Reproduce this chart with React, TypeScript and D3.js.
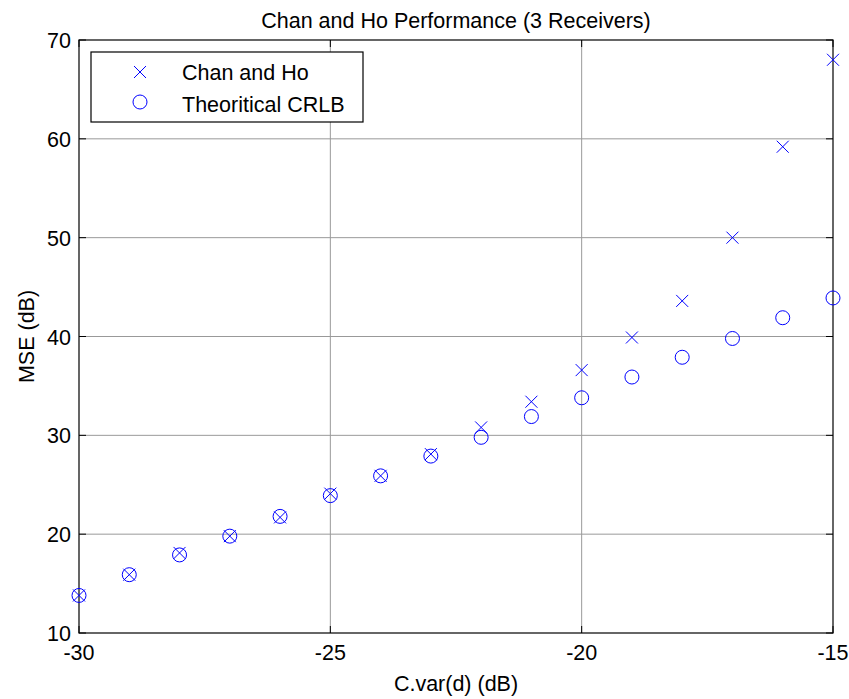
import React from "react";
import * as d3 from "d3";

const xValues = [-30, -29, -28, -27, -26, -25, -24, -23, -22, -21, -20, -19, -18, -17, -16, -15];
const chanHo = [13.8, 15.9, 18.1, 19.8, 21.7, 24.1, 25.9, 28.1, 30.8, 33.4, 36.6, 39.9, 43.6, 50.0, 59.2, 68.0];
const crlb = [13.8, 15.9, 17.9, 19.8, 21.8, 23.9, 25.9, 27.9, 29.8, 31.9, 33.8, 35.9, 37.9, 39.8, 41.9, 43.9];
const xTicks = [-30, -25, -20, -15];
const yTicks = [10, 20, 30, 40, 50, 60, 70];
const legendLabels = ["Chan and Ho", "Theoritical CRLB"];

const width = 849;
const height = 699;
const left = 79;
const right = 833;
const top = 40;
const bottom = 633;
const font = "Arial, 'Liberation Sans', sans-serif";
const fs = 21.5;
const blue = "#0000ff";

const x = d3.scaleLinear().domain([-30, -15]).range([left, right]);
const y = d3.scaleLinear().domain([10, 70]).range([bottom, top]);

const Cross = ({ cx, cy }: { cx: number; cy: number }) => (
  <path
    d={`M${cx - 6},${cy - 6}L${cx + 6},${cy + 6}M${cx - 6},${cy + 6}L${cx + 6},${cy - 6}`}
    stroke={blue}
    strokeWidth={1}
    fill="none"
  />
);

const App = () => {
  const pts = xValues.map((v, i) => ({ v, a: chanHo[i], b: crlb[i] }));
  return (
    <svg width={width} height={height} style={{ position: "absolute", left: 0, top: 0 }}>
      <rect width={width} height={height} fill="white" />
      {/* grid */}
      {xTicks.slice(1, -1).map((t) => (
        <line key={"gx" + t} x1={x(t)} x2={x(t)} y1={top} y2={bottom} stroke="#999" strokeWidth={1} />
      ))}
      {yTicks.slice(1, -1).map((t) => (
        <line key={"gy" + t} x1={left} x2={right} y1={y(t)} y2={y(t)} stroke="#999" strokeWidth={1} />
      ))}
      {/* ticks */}
      {xTicks.map((t) => (
        <g key={"tx" + t}>
          <line x1={x(t)} x2={x(t)} y1={bottom} y2={bottom - 7} stroke="black" />
          <line x1={x(t)} x2={x(t)} y1={top} y2={top + 7} stroke="black" />
          <text x={x(t)} y={bottom + 27} textAnchor="middle" fontFamily={font} fontSize={fs}>
            {t}
          </text>
        </g>
      ))}
      {yTicks.map((t) => (
        <g key={"ty" + t}>
          <line x1={left} x2={left + 7} y1={y(t)} y2={y(t)} stroke="black" />
          <line x1={right} x2={right - 7} y1={y(t)} y2={y(t)} stroke="black" />
          <text x={left - 8} y={y(t) + 8} textAnchor="end" fontFamily={font} fontSize={fs}>
            {t}
          </text>
        </g>
      ))}
      <rect x={left} y={top} width={right - left} height={bottom - top} fill="none" stroke="black" strokeWidth={1.2} />
      {/* data */}
      {pts.map((p) => (
        <g key={p.v}>
          <circle cx={x(p.v)} cy={y(p.b)} r={7} fill="none" stroke={blue} strokeWidth={1} />
          <Cross cx={x(p.v)} cy={y(p.a)} />
        </g>
      ))}
      {/* legend */}
      <rect x={91} y={52} width={272} height={70} fill="white" stroke="black" strokeWidth={1.2} />
      <Cross cx={140} cy={72} />
      <circle cx={140} cy={102} r={7} fill="none" stroke={blue} strokeWidth={1} />
      {legendLabels.map((l, i) => (
        <text key={l} x={182} y={80 + i * 32} fontFamily={font} fontSize={fs}>
          {l}
        </text>
      ))}
      {/* labels */}
      <text x={(left + right) / 2} y={28} textAnchor="middle" fontFamily={font} fontSize={fs}>
        Chan and Ho Performance (3 Receivers)
      </text>
      <text x={(left + right) / 2} y={691} textAnchor="middle" fontFamily={font} fontSize={fs}>
        C.var(d) (dB)
      </text>
      <text
        transform={`translate(34,${(top + bottom) / 2}) rotate(-90)`}
        textAnchor="middle"
        fontFamily={font}
        fontSize={fs}
      >
        MSE (dB)
      </text>
    </svg>
  );
};

export default App;
